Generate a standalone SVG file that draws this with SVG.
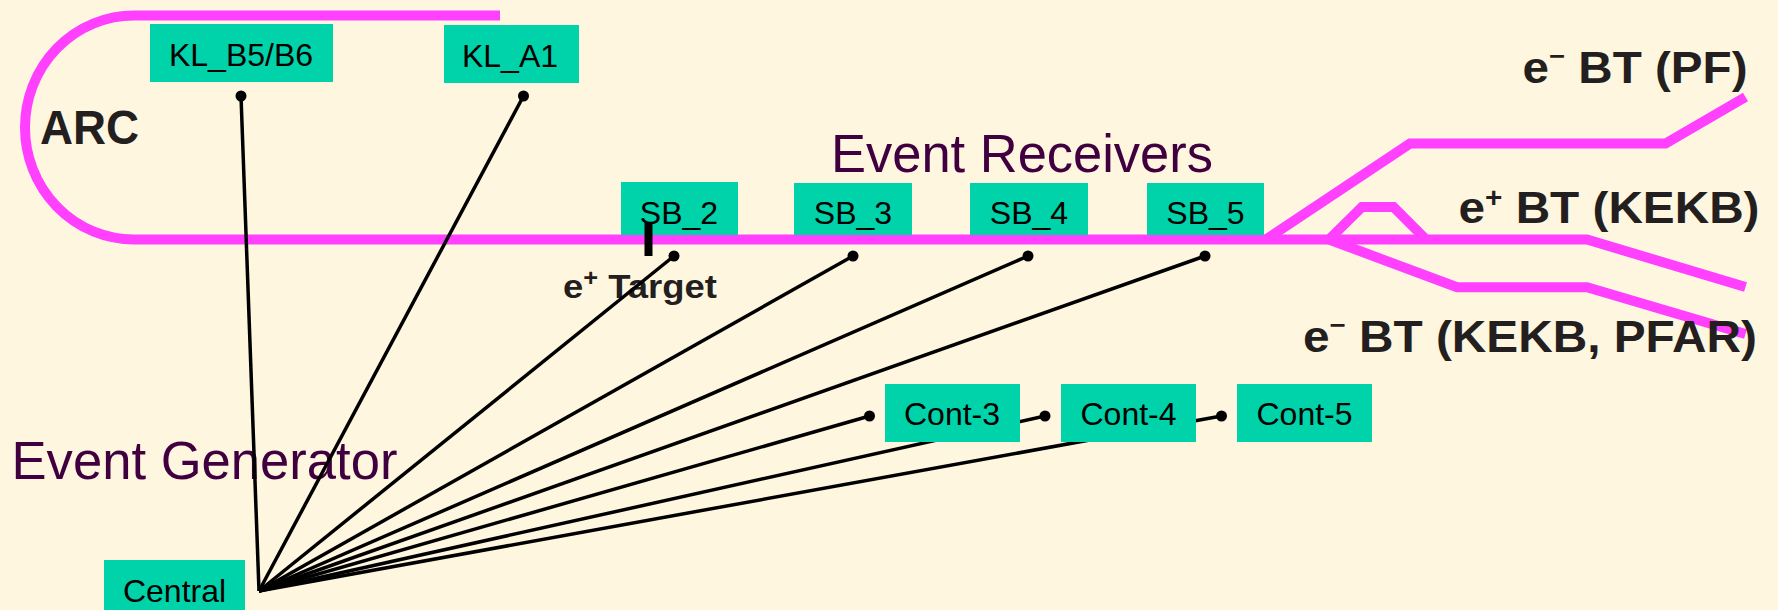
<svg xmlns="http://www.w3.org/2000/svg" width="1778" height="610" viewBox="0 0 1778 610">
<defs>
<style>
.beam{fill:none;stroke:#FF40FF;stroke-width:10;stroke-linecap:butt;stroke-linejoin:miter}
.box{fill:#00D2AA}
.lbl{font-family:"Liberation Sans",Arial,sans-serif;font-size:32px;fill:#000;text-anchor:middle}
.big{font-family:"Liberation Sans",Arial,sans-serif;font-size:53px;fill:#400040}
.bold{font-family:"Liberation Sans",Arial,sans-serif;font-weight:bold;fill:#231F20}
.conn line{stroke:#000;stroke-width:3.5}
.dot{fill:#000}
</style>
</defs>
<rect width="1778" height="610" fill="#FFF6DF"/>
<g id="beamline">
<path class="beam" d="M134,15.5 H500"/>
<path class="beam" d="M134,15.5 A109,112 0 0 0 134,239.5"/>
<path class="beam" d="M134,239.5 H1587 L1745.5,287"/>
<path class="beam" d="M1266,239.5 L1410,143.5 H1665.5 L1745.5,97"/>
<path class="beam" d="M1329,239.5 L1362,207 H1393.5 L1426,239.5"/>
<path class="beam" d="M1329,239.5 L1457,287.3 H1587 L1745.5,334"/>
</g>
<g id="labels">
<text class="bold" x="40" y="144" font-size="48" textLength="99" lengthAdjust="spacingAndGlyphs">ARC</text>
<text class="big" x="831" y="172" textLength="382" lengthAdjust="spacingAndGlyphs">Event Receivers</text>
<text class="big" x="11.5" y="479" textLength="386" lengthAdjust="spacingAndGlyphs">Event Generator</text>
<text class="bold" x="563" y="298" font-size="33" textLength="154" lengthAdjust="spacingAndGlyphs">e<tspan font-size="23" dy="-12">+</tspan><tspan dy="12"> Target</tspan></text>
<text class="bold" x="1522.5" y="83" font-size="45" textLength="225" lengthAdjust="spacingAndGlyphs">e<tspan font-size="26" dy="-18">−</tspan><tspan dy="18"> BT (PF)</tspan></text>
<text class="bold" x="1458.5" y="223" font-size="45" textLength="301" lengthAdjust="spacingAndGlyphs">e<tspan font-size="28" dy="-16">+</tspan><tspan dy="16"> BT (KEKB)</tspan></text>
<text class="bold" x="1303" y="351.5" font-size="45" textLength="454" lengthAdjust="spacingAndGlyphs">e<tspan font-size="26" dy="-18">−</tspan><tspan dy="18"> BT (KEKB, PFAR)</tspan></text>
</g>
<g id="connectors" class="conn">
<line x1="259" y1="591" x2="241" y2="96"/>
<line x1="259" y1="591" x2="523.5" y2="96"/>
<line x1="259" y1="591" x2="674" y2="256"/>
<line x1="259" y1="591" x2="853" y2="256"/>
<line x1="259" y1="591" x2="1028" y2="256"/>
<line x1="259" y1="591" x2="1205" y2="256"/>
<line x1="259" y1="591" x2="869.5" y2="416"/>
<line x1="259" y1="591" x2="1045" y2="416"/>
<line x1="259" y1="591" x2="1221.5" y2="416"/>
<circle class="dot" cx="241" cy="96" r="5.5"/>
<circle class="dot" cx="523.5" cy="96" r="5.5"/>
<circle class="dot" cx="674" cy="256" r="5.5"/>
<circle class="dot" cx="853" cy="256" r="5.5"/>
<circle class="dot" cx="1028" cy="256" r="5.5"/>
<circle class="dot" cx="1205" cy="256" r="5.5"/>
<circle class="dot" cx="869.5" cy="416" r="5.5"/>
<circle class="dot" cx="1045" cy="416" r="5.5"/>
<circle class="dot" cx="1221.5" cy="416" r="5.5"/>
</g>
<g id="KL_B5_B6"><rect class="box" x="150" y="24" width="183" height="58"/><text class="lbl" x="241" y="66">KL_B5/B6</text></g>
<g id="KL_A1"><rect class="box" x="444" y="25" width="135" height="58"/><text class="lbl" x="510" y="67">KL_A1</text></g>
<g id="SB_2"><rect class="box" x="621" y="182" width="117" height="53"/><text class="lbl" x="679" y="224">SB_2</text></g>
<g id="SB_3"><rect class="box" x="794" y="183" width="118" height="52"/><text class="lbl" x="853" y="224">SB_3</text></g>
<g id="SB_4"><rect class="box" x="970" y="183" width="118" height="52"/><text class="lbl" x="1029" y="224">SB_4</text></g>
<g id="SB_5"><rect class="box" x="1147" y="183" width="117" height="52"/><text class="lbl" x="1205.5" y="224">SB_5</text></g>
<g id="Cont-3"><rect class="box" x="885" y="384" width="135" height="58"/><text class="lbl" x="952" y="425">Cont-3</text></g>
<g id="Cont-4"><rect class="box" x="1061" y="384" width="135" height="58"/><text class="lbl" x="1128.5" y="425">Cont-4</text></g>
<g id="Cont-5"><rect class="box" x="1237" y="384" width="135" height="58"/><text class="lbl" x="1304.5" y="425">Cont-5</text></g>
<g id="Central"><rect class="box" x="104" y="560" width="141" height="55"/><text class="lbl" x="174.5" y="602">Central</text></g>
<g id="e_target"><rect x="644.5" y="222" width="8" height="34" fill="#000"/></g>
</svg>
